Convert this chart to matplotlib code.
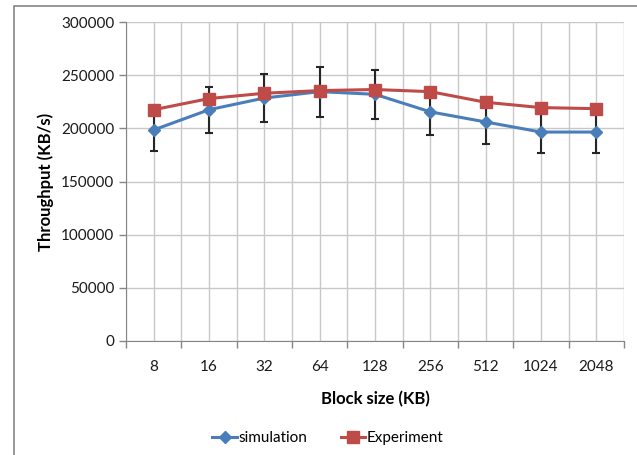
import numpy as np
import matplotlib.pyplot as plt
from matplotlib.patches import Rectangle

# ===== Data =====
block_sizes = ["8", "16", "32", "64", "128", "256", "512", "1024", "2048"]
simulation = [198500, 217500, 228500, 234500, 232000, 215500, 206000, 196500, 196500]
experiment = [217500, 228000, 233000, 235500, 236500, 234500, 224500, 219500, 218500]
sim_err = [v * 0.1 for v in simulation]  # 10% error bars

plt.rcParams['font.family'] = ['Lato', 'DejaVu Sans']

fig = plt.figure(figsize=(6.37, 4.55), dpi=100)
W, H = 637, 455
ax = fig.add_axes([126 / W, 1 - 341 / H, (624 - 126) / W, (341 - 22) / H])

# outer chart border
fig.patches.append(Rectangle((13.5 / W, -0.1), 1.0, 1 - 6.5 / H + 0.1, transform=fig.transFigure,
                             fill=False, edgecolor='#868686', linewidth=1.2))

x = np.arange(len(block_sizes))

ax.errorbar(x, simulation, yerr=sim_err, fmt='none', ecolor='#262626', elinewidth=1.5,
            capsize=3, capthick=1.5, zorder=3)
ax.plot(x, simulation, marker='D', color='#4a7ebb', markersize=6, linewidth=2.2,
        label='simulation', zorder=4)
ax.plot(x, experiment, marker='s', color='#be4b48', markersize=8, linewidth=2.2,
        label='Experiment', zorder=5)

ax.set_xlim(-0.5, len(block_sizes) - 0.5)
ax.set_ylim(0, 300000)
ax.set_yticks(np.arange(0, 300001, 50000))
ax.set_yticklabels([str(v) for v in range(0, 300001, 50000)])

# tick marks at category boundaries, labels at centers
ax.set_xticks(np.arange(-0.5, len(block_sizes)), minor=False)
ax.set_xticklabels([])
ax.set_xticks(x, minor=True)
ax.set_xticklabels(block_sizes, minor=True)
ax.tick_params(axis='x', which='major', length=5, color='#868686', width=1)
ax.tick_params(axis='x', which='minor', length=0, pad=14, labelsize=11, labelcolor='#1a1a1a')
ax.tick_params(axis='y', length=5, color='#868686', width=1, labelsize=11, labelcolor='#1a1a1a')

ax.grid(True, which='both', color='#c8c8c8', linewidth=1)
ax.set_axisbelow(True)
for s in ['top', 'right']:
    ax.spines[s].set_visible(False)
for s in ['left', 'bottom']:
    ax.spines[s].set_color('#868686')

ax.set_xlabel("Block size (KB)", fontsize=12, fontweight='bold', labelpad=12)
ax.set_ylabel("Throughput (KB/s)", fontsize=12, fontweight='bold', labelpad=5)

fig.legend(loc='center', bbox_to_anchor=(328 / W, 1 - 438 / H), ncol=2, frameon=False,
           fontsize=11, handlelength=1.6, columnspacing=2.2, handletextpad=0.1)

fig.savefig("out.png", dpi=100)
